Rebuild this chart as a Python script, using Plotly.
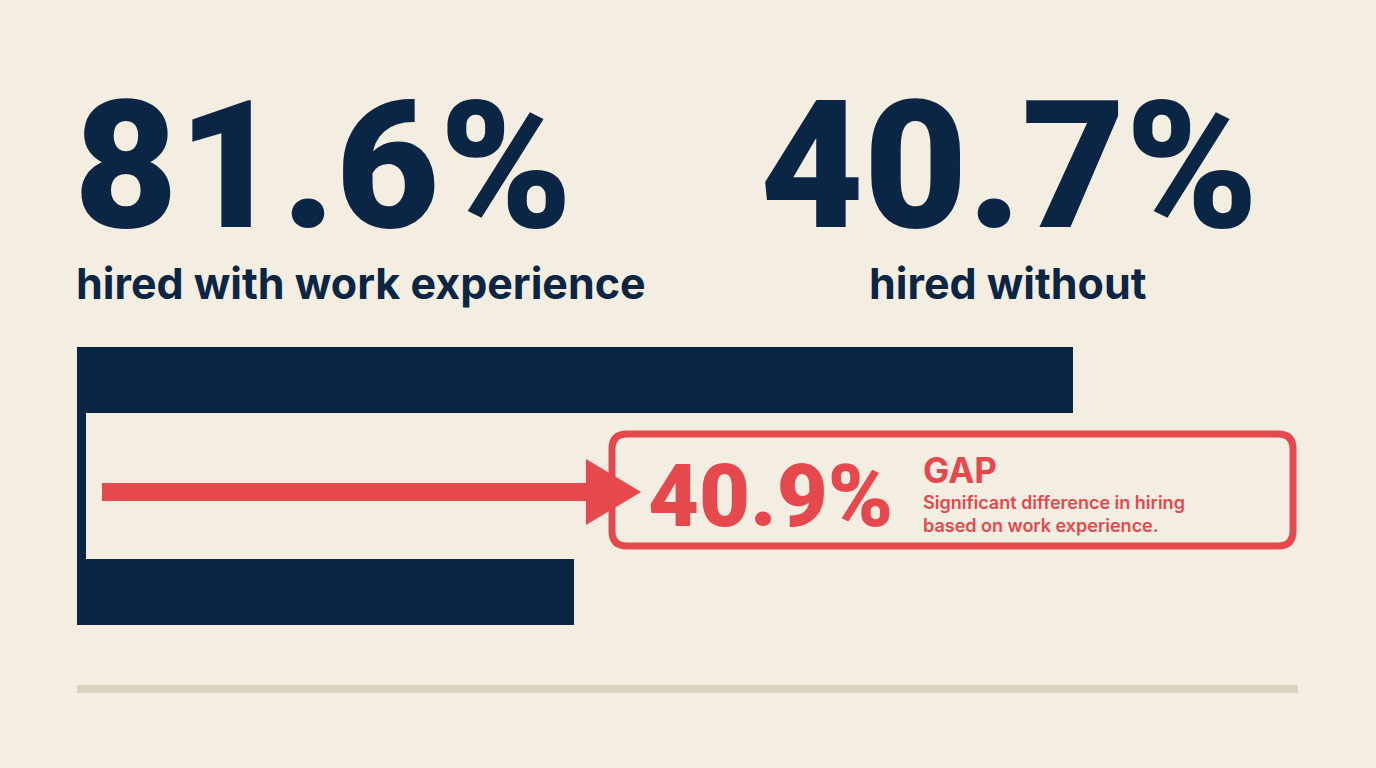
import plotly.graph_objects as go

# values
labels = ["hired with work experience", "hired without"]
values = [81.6, 40.7]
gap_value = 40.9
gap_title = "GAP"
gap_note = "Significant difference in hiring<br>based on work experience."

NAVY = "#0b2544"
RED = "#e5484d"
BG = "#f3eee1"
RULE = "#dbd2c0"
NUM_FONT = "Roboto"
TXT_FONT = "Inter"

# y axis works in screen pixels (reversed), x axis is 0..100 percent
bar_y = [380, 592]
bar_h = 66

fig = go.Figure()
fig.add_trace(go.Bar(
    x=values, y=bar_y, orientation="h", width=bar_h,
    marker=dict(color=NAVY, line=dict(width=0)),
    hoverinfo="skip", showlegend=False,
))

def px(v):
    # pixel -> x data, plot area starts at 77 and is 1221 wide
    return (v - 77) / 1221 * 100

shapes = [
    # bracket joining the two bars
    dict(type="rect", xref="x", yref="y", x0=0, x1=px(86), y0=412, y1=560,
         fillcolor=NAVY, line=dict(width=0), layer="below"),
    # arrow shaft
    dict(type="line", xref="x", yref="y", x0=px(102), x1=px(590), y0=492, y1=492,
         line=dict(color=RED, width=18)),
    # arrow head
    dict(type="path", xref="x", yref="y",
         path=f"M {px(586)},459 L {px(641)},492 L {px(586)},525 Z",
         fillcolor=RED, line=dict(width=0)),
    # bottom rule
    dict(type="line", xref="x", yref="y", x0=0, x1=100, y0=689, y1=689,
         line=dict(color=RULE, width=8)),
]

# rounded gap box
x0, x1, y0, y1, r = px(612), px(1293), 434, 546, 15 / 12.21
ry = 15
box = (f"M {x0 + r},{y0} L {x1 - r},{y0} Q {x1},{y0} {x1},{y0 + ry} "
       f"L {x1},{y1 - ry} Q {x1},{y1} {x1 - r},{y1} "
       f"L {x0 + r},{y1} Q {x0},{y1} {x0},{y1 - ry} "
       f"L {x0},{y0 + ry} Q {x0},{y0} {x0 + r},{y0} Z")
shapes.append(dict(type="path", xref="x", yref="y", path=box,
                   line=dict(color=RED, width=7), fillcolor="rgba(0,0,0,0)"))

ann = []
def text(s, x, y, size, color, family, anchor="left", weight=800):
    ann.append(dict(text=s, x=x, y=y, xref="paper", yref="y", showarrow=False,
                    xanchor=anchor, yanchor="middle", align="left",
                    font=dict(family=family, size=size, color=color, weight=weight)))

def pp(v):
    # pixel -> paper fraction of the plot area
    return (v - 77) / 1221

text(f"{values[0]}%", pp(72), 166, 179, NAVY, NUM_FONT, weight=900)
text(f"{values[1]}%", pp(1009), 166, 179, NAVY, NUM_FONT, anchor="center", weight=900)
text(labels[0], pp(74), 283, 43, NAVY, TXT_FONT, weight=700)
text(labels[1], pp(1008), 283, 43, NAVY, TXT_FONT, anchor="center", weight=700)
text(f"{gap_value}%", pp(646), 495, 88, RED, NUM_FONT, weight=900)
text(gap_title, pp(921), 470, 35, RED, TXT_FONT, weight=700)
text(gap_note, pp(921), 514, 18, RED, TXT_FONT, weight=600)
fig.update_layout(annotations=ann, shapes=shapes)

fig.update_layout(
    width=1376, height=768,
    margin=dict(l=77, r=78, t=0, b=0),
    paper_bgcolor=BG, plot_bgcolor=BG,
    xaxis=dict(range=[0, 100], visible=False, fixedrange=True),
    yaxis=dict(range=[768, 0], visible=False, fixedrange=True),
    bargap=0,
)

fig.write_html("out.html", config=dict(displayModeBar=False),
               post_script="document.body.style.margin='0';document.body.style.overflow='hidden';")
